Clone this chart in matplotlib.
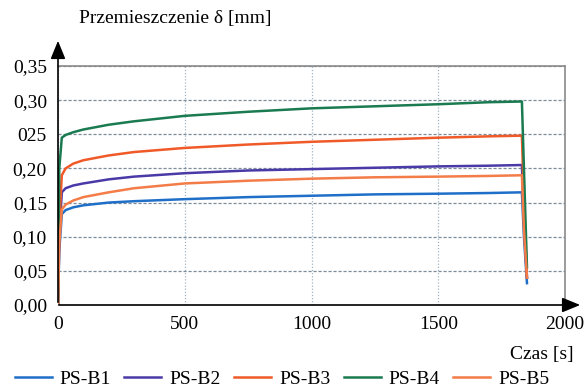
import matplotlib.pyplot as plt
import numpy as np

plt.rcParams["font.family"] = ["Liberation Serif", "DejaVu Serif"]

# time [s]
czas = [0, 5, 15, 30, 60, 100, 200, 300, 500, 750, 1000, 1250, 1500, 1700, 1830, 1838, 1850]

# displacement [mm]
ps_b1 = [0, 0.08, 0.133, 0.139, 0.143, 0.146, 0.150, 0.152, 0.155, 0.158, 0.160, 0.162, 0.163, 0.164, 0.165, 0.10, 0.032]
ps_b2 = [0, 0.10, 0.165, 0.171, 0.175, 0.178, 0.184, 0.188, 0.193, 0.197, 0.199, 0.201, 0.203, 0.204, 0.205, 0.12, 0.040]
ps_b3 = [0, 0.12, 0.190, 0.200, 0.207, 0.212, 0.219, 0.224, 0.230, 0.235, 0.239, 0.242, 0.245, 0.247, 0.248, 0.15, 0.040]
ps_b4 = [0, 0.20, 0.245, 0.249, 0.253, 0.257, 0.264, 0.269, 0.277, 0.283, 0.288, 0.291, 0.294, 0.297, 0.298, 0.20, 0.055]
ps_b5 = [0, 0.09, 0.140, 0.147, 0.153, 0.158, 0.165, 0.171, 0.178, 0.182, 0.185, 0.187, 0.188, 0.189, 0.190, 0.11, 0.040]

series = ["PS-B1", "PS-B2", "PS-B3", "PS-B4", "PS-B5"]
colors = ["#1f6fc8", "#4a3aa8", "#f05a28", "#1a7a50", "#f47c48"]

y_ticks = [0, 0.05, 0.10, 0.15, 0.20, 0.25, 0.30, 0.35]
y_labels = ["0,00", "0,05", "0,10", "0,15", "0,20", "025", "0,30", "0,35"]
x_ticks = [0, 500, 1000, 1500, 2000]

fig = plt.figure(figsize=(5.84, 3.91), dpi=100)
ax = fig.add_axes([58 / 584, 1 - 305 / 391, (565 - 58) / 584, (305 - 66) / 391])

for name, vals, c in zip(series, [ps_b1, ps_b2, ps_b3, ps_b4, ps_b5], colors):
    ax.plot(czas, vals, color=c, lw=1.8, label=name)

ax.set_xlim(0, 2000)
ax.set_ylim(0, 0.35)
ax.set_xticks(x_ticks)
ax.set_yticks(y_ticks)
ax.set_yticklabels(y_labels)
ax.tick_params(length=0, labelsize=14, pad=8)

# grid
ax.set_axisbelow(True)
ax.yaxis.grid(color="#7d8c99", linestyle=(0, (2.5, 1.5)), lw=0.9)
ax.xaxis.grid(color="#9fb4c4", linestyle=(0, (1, 1.5)), lw=0.9)

# spines
for s in ["top", "right"]:
    ax.spines[s].set_color("#8a8a8a")
    ax.spines[s].set_linestyle((0, (1.5, 1)))
    ax.spines[s].set_linewidth(1.2)
ax.spines["left"].set_visible(False)
ax.spines["bottom"].set_visible(False)

# axis arrows
arrow = dict(arrowstyle="-|>,head_length=1.1,head_width=0.45", color="black", lw=1.2)
ax.annotate("", xy=(58 / 584, 1 - 38 / 391), xytext=(58 / 584, 1 - 305 / 391),
            xycoords="figure fraction", textcoords="figure fraction", arrowprops=arrow)
ax.annotate("", xy=(583 / 584, 1 - 305 / 391), xytext=(56 / 584, 1 - 305 / 391),
            xycoords="figure fraction", textcoords="figure fraction", arrowprops=arrow)

fig.text(79 / 584, 1 - 18 / 391, "Przemieszczenie δ [mm]", fontsize=14, va="center", ha="left")
fig.text(574 / 584, 1 - 354 / 391, "Czas [s]", fontsize=14, va="center", ha="right")

fig.legend(loc="center", bbox_to_anchor=(282 / 584, 1 - 379 / 391), ncol=5, frameon=False,
           fontsize=14, handlelength=1.9, columnspacing=0.7, handletextpad=0.4, borderpad=0)

fig.savefig("out.png", dpi=100)
